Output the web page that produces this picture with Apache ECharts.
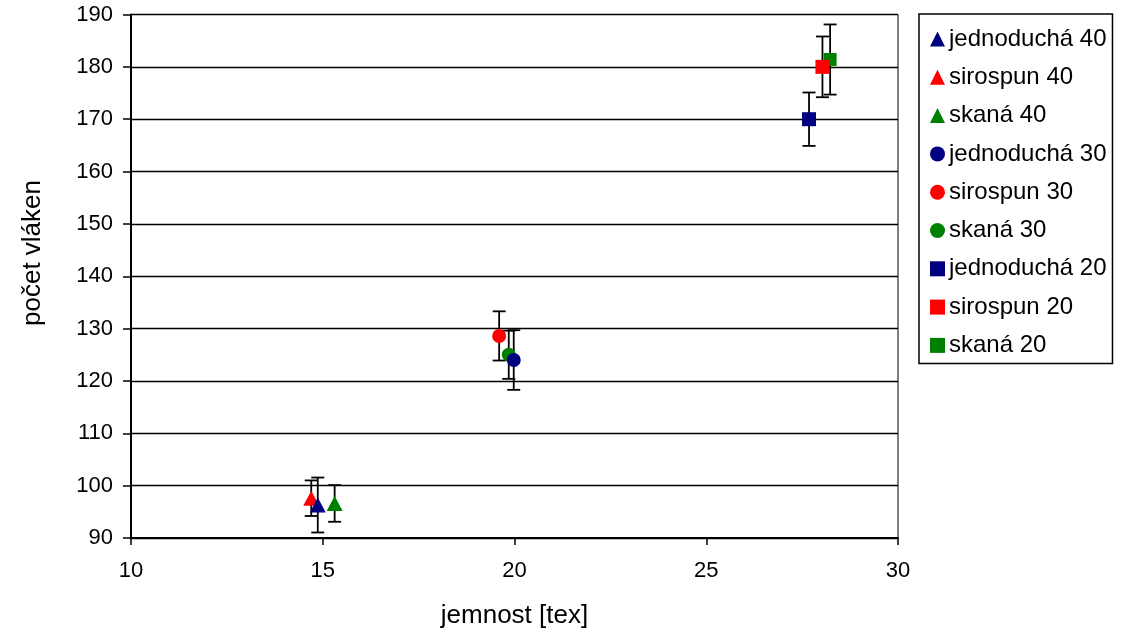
<!DOCTYPE html>
<html>
<head>
<meta charset="utf-8">
<title>počet vláken – jemnost</title>
<script src="https://cdn.jsdelivr.net/npm/echarts@6/dist/echarts.min.js"></script>
<style>
  html, body { margin: 0; padding: 0; background: #fff; }
  #chart { width: 1127px; height: 633px; }
</style>
</head>
<body>
<div id="chart"></div>
<script>
// Series names, in legend order
const seriesNames = ['jednoduchá 40', 'sirospun 40', 'skaná 40',
                     'jednoduchá 30', 'sirospun 30', 'skaná 30',
                     'jednoduchá 20', 'sirospun 20', 'skaná 20'];
// Mean yarn count [tex]
const jemnost = [14.87, 14.70, 15.31, 19.98, 19.60, 19.85, 27.68, 28.03, 28.23];
// Mean number of fibres in the cross-section
const pocetVlaken = [96.3, 97.6, 96.6, 124.0, 128.6, 125.0, 170.0, 180.0, 181.4];
// Half-length of the error bar
const odchylka = [5.25, 3.4, 3.5, 5.7, 4.7, 4.6, 5.1, 5.8, 6.7];
// Axis ranges and tick steps
const xRange = [10, 30, 5];
const yRange = [90, 190, 10];

// Marker styles
const colors = ['#000080', '#FF0000', '#008000'];
const symbols = ['triangle', 'circle', 'rect'];
const sizes = { triangle: [16, 15], circle: 14, rect: 14 };

const FONT = '"Liberation Sans", Arial, sans-serif';

const chart = echarts.init(document.getElementById('chart'), null, { renderer: 'canvas' });

const scatterSeries = seriesNames.map((name, i) => {
  const sym = symbols[Math.floor(i / 3)];
  return {
    name: name,
    type: 'scatter',
    symbol: sym,
    symbolSize: (i === 8) ? 13 : sizes[sym],
    itemStyle: { color: colors[i % 3], opacity: 1 },
    z: 3,
    emphasis: { disabled: true },
    data: [[jemnost[i], pocetVlaken[i]]]
  };
});
// Earlier groups are painted over later ones
scatterSeries.reverse();

const errorSeries = {
  name: 'chyba',
  type: 'custom',
  z: 2,
  silent: true,
  data: seriesNames.map((_, i) => [jemnost[i], pocetVlaken[i], odchylka[i]]),
  renderItem: function (params, api) {
    const x = api.value(0), y = api.value(1), e = api.value(2);
    const top = api.coord([x, y + e]);
    const bot = api.coord([x, y - e]);
    const hw = 6.5;
    const st = { stroke: '#000', lineWidth: 1.8 };
    return {
      type: 'group',
      children: [
        { type: 'line', shape: { x1: top[0], y1: top[1], x2: bot[0], y2: bot[1] }, style: st },
        { type: 'line', shape: { x1: top[0] - hw, y1: top[1], x2: top[0] + hw, y2: top[1] }, style: st },
        { type: 'line', shape: { x1: bot[0] - hw, y1: bot[1], x2: bot[0] + hw, y2: bot[1] }, style: st }
      ]
    };
  }
};

const option = {
  backgroundColor: '#fff',
  animation: false,
  textStyle: { fontFamily: FONT, color: '#000' },
  grid: {
    left: 131, right: 229, top: 14.5, bottom: 95,
    outerBoundsMode: 'none',
    containLabel: false,
    show: true, borderColor: '#000', borderWidth: 1, backgroundColor: 'transparent'
  },
  xAxis: {
    type: 'value',
    min: xRange[0], max: xRange[1], interval: xRange[2],
    name: 'jemnost [tex]',
    nameLocation: 'middle',
    nameGap: 65,
    nameTextStyle: { fontSize: 26, fontFamily: FONT, color: '#000' },
    axisLine: { show: true, onZero: false, lineStyle: { color: '#000', width: 2 } },
    axisTick: { show: true, inside: false, length: 7, lineStyle: { color: '#000', width: 1.5 } },
    axisLabel: { fontSize: 22, fontFamily: FONT, color: '#000', margin: 22 },
    splitLine: { show: false }
  },
  yAxis: {
    type: 'value',
    min: yRange[0], max: yRange[1], interval: yRange[2],
    axisLine: { show: true, onZero: false, lineStyle: { color: '#000', width: 2 } },
    axisTick: { show: true, inside: false, length: 8, lineStyle: { color: '#000', width: 1.5 } },
    axisLabel: { fontSize: 22, fontFamily: FONT, color: '#000', margin: 18 },
    splitLine: { show: true, lineStyle: { color: '#000', width: 1.3 } }
  },
  legend: {
    orient: 'vertical',
    left: 919, top: 14,
    padding: [13, 6, 6, 11],
    itemGap: 14.3,
    itemWidth: 15, itemHeight: 15,
    borderColor: '#000', borderWidth: 1.5,
    backgroundColor: '#fff',
    selectedMode: false,
    textStyle: { fontSize: 24, fontFamily: FONT, color: '#000', padding: [0, 0, 0, -1] },
    data: seriesNames.map((name, i) => ({
      name: name,
      icon: symbols[Math.floor(i / 3)],
      itemStyle: { color: colors[i % 3] }
    }))
  },
  graphic: [{
    type: 'text',
    x: 33, y: 253,
    rotation: Math.PI / 2,
    style: {
      text: 'počet vláken',
      fontSize: 26, fontFamily: FONT, fill: '#000',
      align: 'center', verticalAlign: 'middle'
    }
  }],
  series: [errorSeries].concat(scatterSeries)
};

chart.setOption(option);
</script>
</body>
</html>
